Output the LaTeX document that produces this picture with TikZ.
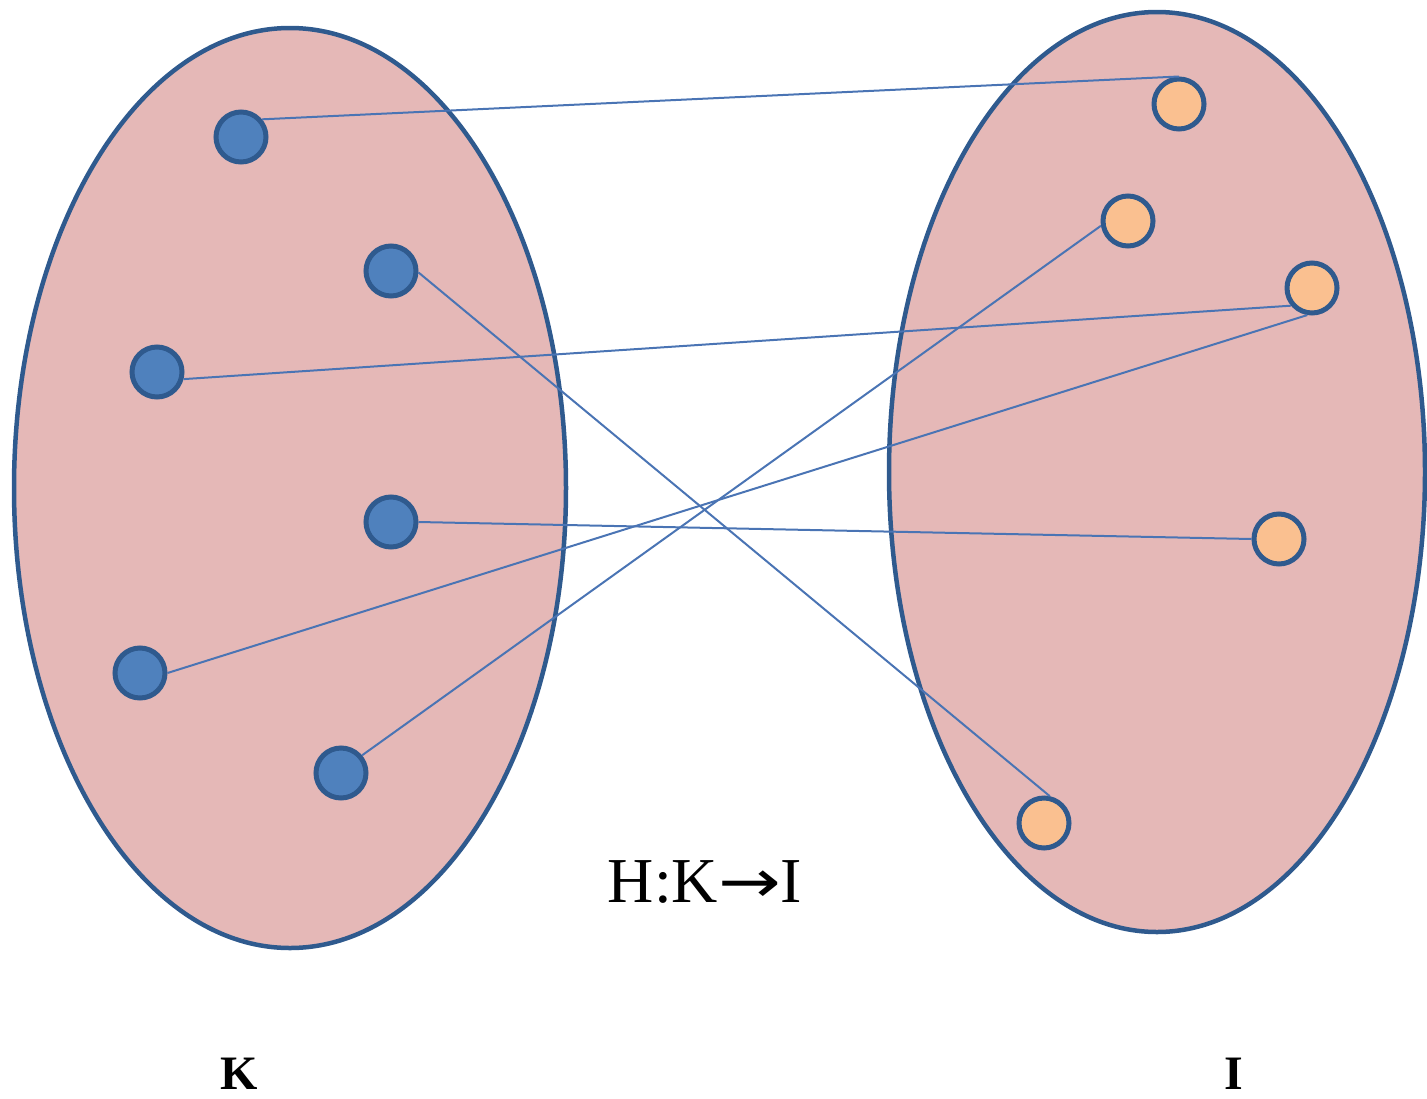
\documentclass[tikz,border=0pt]{standalone}
\usepackage{fontspec}
\setmainfont{Liberation Serif}
\newfontfamily\arrowfont{DejaVu Sans}
\definecolor{setfill}{HTML}{E5B8B7}
\definecolor{setborder}{HTML}{2F5A8E}
\definecolor{bluefill}{HTML}{4F81BD}
\definecolor{orangefill}{HTML}{FAC090}
\definecolor{linkcol}{HTML}{4A74B4}
\tikzset{
  setshape/.style={fill=setfill, draw=setborder, line width=4.5pt},
  dot/.style={circle, draw=setborder, line width=5pt, minimum size=50pt, inner sep=0pt},
  bdot/.style={dot, fill=bluefill},
  odot/.style={dot, fill=orangefill},
  link/.style={draw=linkcol, line width=2pt},
  setlabel/.style={font=\fontsize{48}{52}\selectfont\bfseries, inner sep=0pt, anchor=base}
}
\begin{document}
\begin{tikzpicture}[x=1pt, y=-1pt]
\useasboundingbox (0,0) rectangle (1427,1098);
\draw[setshape] (290,488) ellipse [x radius=276, y radius=460];
\draw[setshape] (1157,472) ellipse [x radius=268, y radius=460];
% domain points
\node[bdot] (b1) at (241,137) {};
\node[bdot] (b2) at (391,271) {};
\node[bdot] (b3) at (157,372) {};
\node[bdot] (b4) at (391,522) {};
\node[bdot] (b5) at (140,673) {};
\node[bdot] (b6) at (341,773) {};
% codomain points
\node[odot] (o1) at (1179,104) {};
\node[odot] (o2) at (1128,221) {};
\node[odot] (o3) at (1312,288) {};
\node[odot] (o4) at (1279,539) {};
\node[odot] (o5) at (1044,823) {};
% mapping
\draw[link] (b1.40) -- (o1.north);
\draw[link] (b2.-3) -- (o5.78);
\draw[link] (b3.-15) -- (o3.-140);
\draw[link] (b4.east) -- (o4.west);
\draw[link] (b5.0) -- (o3.-100);
\draw[link] (b6.40) -- (o2.190);
% labels
\node[font=\fontsize{64}{70}\selectfont, inner sep=0pt, anchor=base] (map) at (705,902) {H:K\scalebox{1.25}[1]{\arrowfont\fontsize{60}{66}\selectfont →}I};
\node[setlabel] (lk) at (239,1089) {K};
\node[setlabel] (li) at (1234,1089) {I};
\end{tikzpicture}
\end{document}
